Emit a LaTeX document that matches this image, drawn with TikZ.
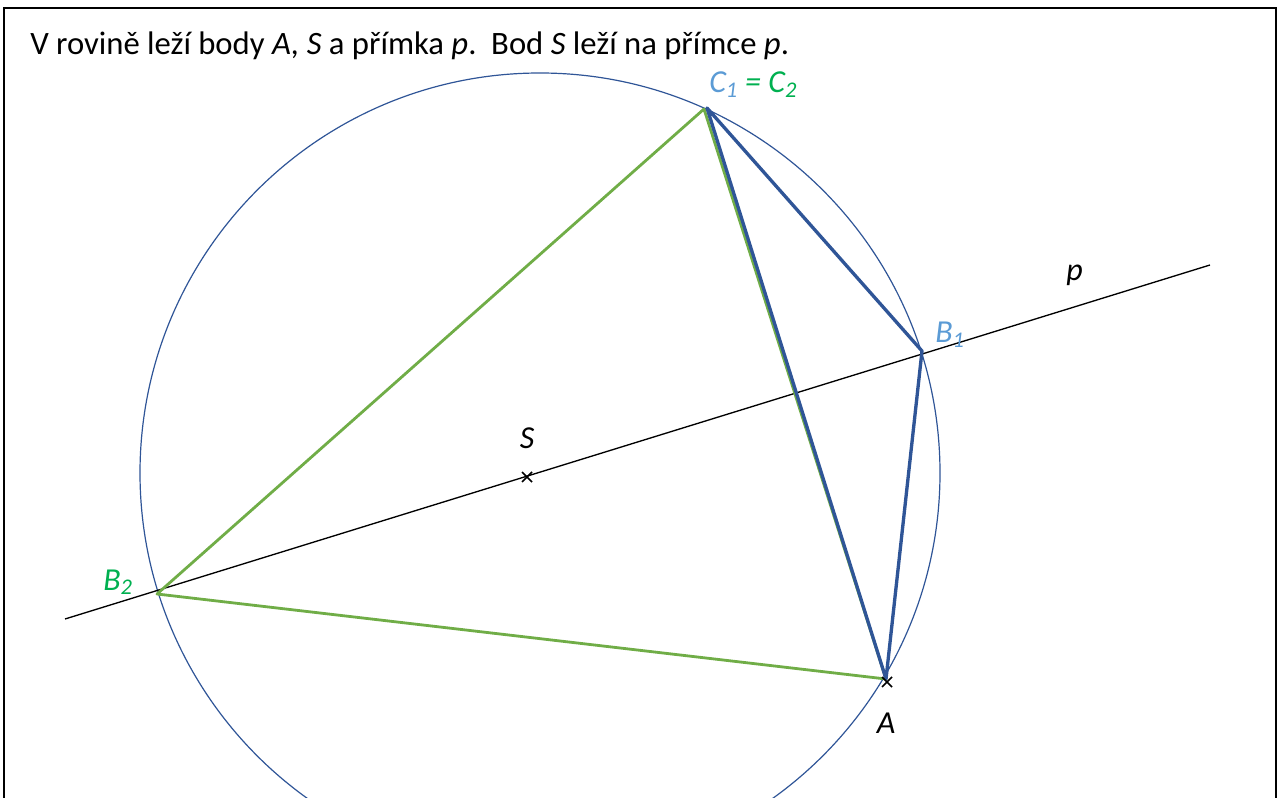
\documentclass[tikz,border=0pt]{standalone}
\usepackage{fontspec}
\setmainfont{Carlito}
\usetikzlibrary{positioning}
\definecolor{kruhmodra}{HTML}{2F5597}
\definecolor{svetlemodra}{HTML}{5B9BD5}
\definecolor{zelena}{HTML}{00B050}
\definecolor{trojzelena}{HTML}{70AD47}

\begin{document}
\begin{tikzpicture}[x=0.75pt,y=-0.75pt,
  font=\fontsize{24.5}{29}\selectfont,
  lbl/.style={inner sep=0pt, font=\fontsize{24}{29}\selectfont\itshape},
  kruh/.style={draw=kruhmodra, line width=0.9pt},
  primka/.style={draw=black, line width=1pt},
  troj1/.style={draw=kruhmodra, line width=2.5pt, line join=round},
  troj2/.style={draw=trojzelena, line width=2.1pt, line join=round},
  krizek/.style={draw=black, line width=1.3pt}
]
  \useasboundingbox (0,0) rectangle (1278,798);
  \clip (0,0) rectangle (1278,798);
  % ramecek
  \draw[line width=1.5pt] (4,800) -- (4,8) -- (1276,8) -- (1276,800);
  \node[anchor=base west, inner sep=0pt] (zadani) at (30,55)
    {V rovině leží body \textit{A, S} a přímka \textit{p}.\ \ Bod \textit{S} leží na přímce \textit{p}.};

  % body
  \coordinate (stred) at (540,473);
  \coordinate (S) at (527,477);
  \coordinate (A) at (886,679);
  \coordinate (B1) at (922,351);
  \coordinate (B2) at (157,594);
  \coordinate (C1) at (707,108);
  \coordinate (C2) at (704,109);
  \coordinate (p1) at (65,619);
  \coordinate (p2) at (1210,265);

  \draw[kruh] (stred) circle [radius=400];
  \draw[primka] (p1) -- (p2);

  \draw[troj2] (A) -- (B2) -- (C2) -- cycle;
  \draw[troj1] (A) -- (B1) -- (C1) -- cycle;

  \draw[krizek] (S) +(-5,-5) -- +(5,5) +(-5,5) -- +(5,-5);
  \draw[krizek] (A) ++(1,3) +(-5,-5) -- +(5,5) +(-5,5) -- +(5,-5);

  % popisky
  \node[lbl, above=21pt of S] (lS) {S};
  \node[lbl, below=25pt of A] (lA) {A};
  \node[lbl, anchor=base west] (lp) at (1066,281) {p};
  \node[lbl, anchor=base west, text=svetlemodra] (lB1) at (935,343) {B\textsubscript{1}};
  \node[lbl, anchor=base west, text=zelena] (lB2) at (103,590) {B\textsubscript{2}};
  \node[lbl, anchor=base west] (lC) at (709,93)
    {\textcolor{svetlemodra}{C\textsubscript{1}} \textcolor{zelena}{= C\textsubscript{2}}};
\end{tikzpicture}
\end{document}
